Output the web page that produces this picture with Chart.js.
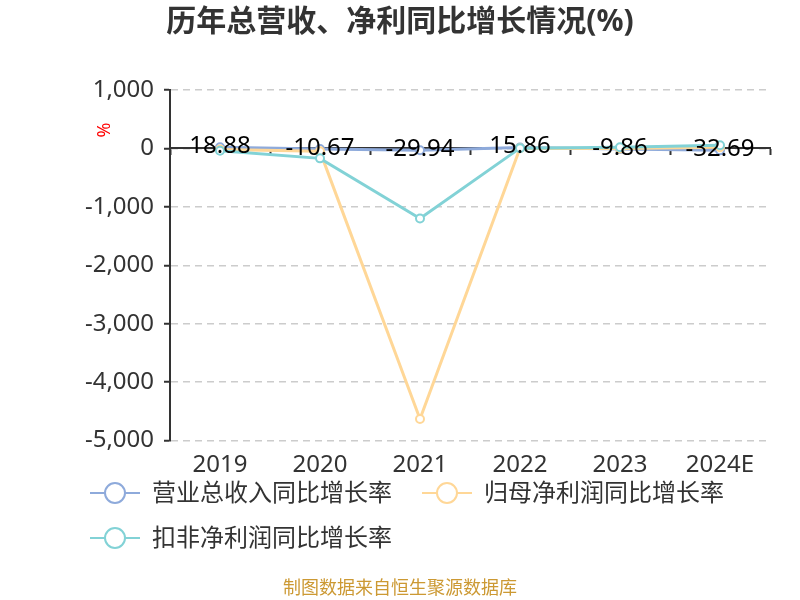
<!DOCTYPE html>
<html>
<head>
<meta charset="utf-8">
<script src="https://cdn.jsdelivr.net/npm/chart.js@4.4.0/dist/chart.umd.min.js"></script>
<style>
  html, body { margin: 0; padding: 0; background: #fff; }
  #wrap { width: 800px; height: 600px; }
</style>
</head>
<body>
<div id="wrap"><canvas id="myChart" width="800" height="600"></canvas></div>
<script>
const years = ["2019", "2020", "2021", "2022", "2023", "2024E"];
const revenueGrowth = [18.88, -10.67, -29.94, 15.86, -9.86, -32.69];
const netProfitGrowth = [-20, -50, -4630, 5, 0, 20];
const deductedProfitGrowth = [-40, -170, -1200, 5, 20, 55];
const yTicks = [1000, 0, -1000, -2000, -3000, -4000, -5000];
const seriesNames = ["营业总收入同比增长率", "归母净利润同比增长率", "扣非净利润同比增长率"];
const seriesColors = ["#8eaadb", "#ffd797", "#82d2d6"];

const FONT = '"Noto Sans", "Noto Sans CJK SC", sans-serif';
Chart.defaults.font.family = FONT;

function makeDataset(i, data) {
  return {
    label: seriesNames[i],
    data: data,
    borderColor: seriesColors[i],
    backgroundColor: "#fff",
    borderWidth: 3,
    pointRadius: 4,
    pointBorderWidth: 2,
    pointBackgroundColor: "#fff",
    pointBorderColor: seriesColors[i],
    tension: 0,
    order: 3 - i,
  };
}

// numbers over the revenue line
const valueLabels = {
  id: "valueLabels",
  afterDatasetsDraw(chart) {
    const meta = chart.getDatasetMeta(0);
    const ctx = chart.ctx;
    ctx.save();
    ctx.font = "24px " + FONT;
    ctx.fillStyle = "#000";
    ctx.textAlign = "center";
    ctx.textBaseline = "middle";
    meta.data.forEach((pt, i) => {
      ctx.fillText(revenueGrowth[i].toFixed(2), pt.x, pt.y - 1);
    });
    ctx.restore();
  },
};

// legend with line + hollow circle, and the red % unit
const lineLegend = {
  id: "lineLegend",
  afterDraw(chart) {
    const ctx = chart.ctx;
    ctx.save();
    ctx.font = "24px " + FONT;
    ctx.textBaseline = "middle";
    let x = 90;
    let y = 493;
    chart.data.datasets.forEach((ds) => {
      const w = 62 + ctx.measureText(ds.label).width;
      if (x + w > 770) {
        x = 90;
        y += 45;
      }
      ctx.strokeStyle = ds.borderColor;
      ctx.lineWidth = 2;
      ctx.beginPath();
      ctx.moveTo(x, y);
      ctx.lineTo(x + 50, y);
      ctx.stroke();
      ctx.beginPath();
      ctx.arc(x + 25, y, 10, 0, Math.PI * 2);
      ctx.fillStyle = "#fff";
      ctx.fill();
      ctx.stroke();
      ctx.fillStyle = "#333";
      ctx.fillText(ds.label, x + 62, y + 1);
      x += w + 30;
    });

    ctx.translate(105, 130);
    ctx.rotate(-Math.PI / 2);
    ctx.font = "18px " + FONT;
    ctx.fillStyle = "#ff0000";
    ctx.textAlign = "center";
    ctx.fillText("%", 0, 0);
    ctx.restore();
  },
};

new Chart(document.getElementById("myChart"), {
  type: "line",
  data: {
    labels: years,
    datasets: [
      makeDataset(0, revenueGrowth),
      makeDataset(1, netProfitGrowth),
      makeDataset(2, deductedProfitGrowth),
    ],
  },
  options: {
    responsive: false,
    animation: false,
    layout: { padding: { left: 30, right: 30, top: 0, bottom: 0 } },
    plugins: {
      legend: { display: false },
      tooltip: { enabled: false },
      title: {
        display: true,
        text: "历年总营收、净利同比增长情况(%)",
        color: "#333",
        font: { size: 30, weight: "bold" },
        padding: { top: 4, bottom: 50 },
      },
      subtitle: {
        display: true,
        position: "bottom",
        text: "制图数据来自恒生聚源数据库",
        color: "#cc9933",
        font: { size: 18 },
        padding: { top: 89, bottom: 0 },
      },
    },
    scales: {
      x: {
        type: "category",
        offset: true,
        grid: { display: false, drawTicks: false },
        border: { display: false },
        ticks: { color: "#333", font: { size: 24 }, padding: 10, maxRotation: 0, autoSkip: false },
      },
      x0: {
        type: "category",
        axis: "x",
        labels: years,
        position: { y: 0 },
        offset: true,
        grid: { drawOnChartArea: false, offset: true, tickLength: 6, tickWidth: 2, tickColor: "#333" },
        border: { color: "#333", width: 2 },
        ticks: { display: false },
      },
      y: {
        min: yTicks[yTicks.length - 1],
        max: yTicks[0],
        afterBuildTicks: (s) => {
          s.ticks = yTicks.map((v) => ({ value: v }));
        },
        afterFit: (s) => {
          s.width = 140;
        },
        grid: { color: "#ccc", lineWidth: 1.5, tickColor: "#333", tickLength: 6, tickWidth: 2 },
        border: { color: "#333", width: 2, dash: [7, 5] },
        ticks: {
          color: "#333",
          font: { size: 24 },
          padding: 10,
          callback: (v) => Number(v).toLocaleString("en-US"),
        },
      },
    },
  },
  plugins: [valueLabels, lineLegend],
});
</script>
</body>
</html>
